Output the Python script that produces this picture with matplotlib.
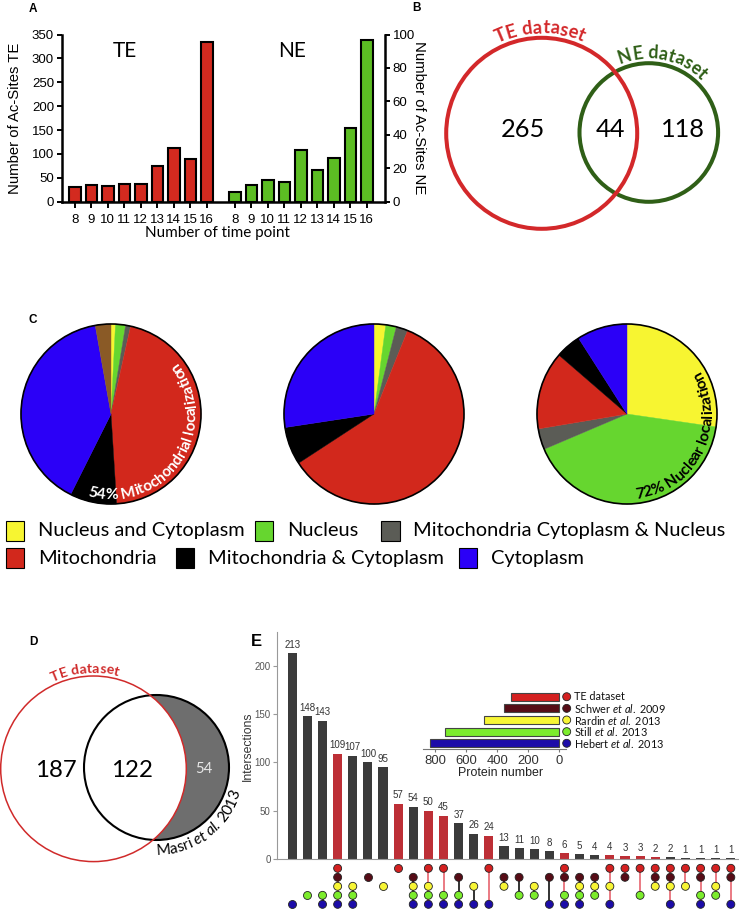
import numpy as np
import matplotlib
matplotlib.use('Agg')
import matplotlib.pyplot as plt
from matplotlib.patches import Circle, Rectangle
from matplotlib.font_manager import FontProperties

plt.rcParams['font.family'] = ['Liberation Sans', 'DejaVu Sans']
plt.rcParams['mathtext.fontset'] = 'custom'
plt.rcParams['mathtext.rm'] = 'Lato'
plt.rcParams['mathtext.it'] = 'Lato:italic'

# ---------------- data ----------------
time_points = [8, 9, 10, 11, 12, 13, 14, 15, 16]
te_sites = [30, 36, 32, 38, 38, 74, 112, 89, 334]
ne_sites = [6, 10, 13, 12, 31, 19, 26, 44, 97]

venn_b_counts = [265, 44, 118]

loc_categories = ['Nucleus and Cytoplasm', 'Nucleus', 'Mitochondria Cytoplasm & Nucleus',
                  'Mitochondria', 'Mitochondria & Cytoplasm', 'Cytoplasm', 'Other']
loc_colors = ['#f7f531', '#66d62f', '#5b5c56', '#d2281c', '#000000', '#2b00f7', '#8a5a26']
pie1_values = [0.8, 1.8, 0.9, 45.5, 8.4, 39.8, 2.8]
pie2_values = [2.1, 1.9, 2.1, 59.7, 6.8, 27.4, 0.0]
pie3_values = [27.3, 41.3, 3.75, 14.0, 4.6, 9.05, 0.0]
pie1_note = '54% Mitochondrial localization'
pie3_note = '72% Nuclear localization'

venn_d_counts = [187, 122, 54]

set_names = ['TE dataset', 'Schwer $\\it{et\\ al.}$ 2009', 'Rardin $\\it{et\\ al.}$ 2013',
             'Still $\\it{et\\ al.}$ 2013', 'Hebert $\\it{et\\ al.}$ 2013']
set_sizes = [309, 356, 483, 734, 835]
set_colors = ['#d42020', '#560c16', '#f7f535', '#7cec2c', '#1c0ca8']
inter_counts = [213, 148, 143, 109, 107, 100, 95, 57, 54, 50, 45, 37, 26, 24, 13, 11, 10, 8,
                6, 5, 4, 4, 3, 3, 2, 2, 1, 1, 1, 1]
inter_members = ['00001', '00010', '00011', '11111', '00111', '01000', '00100', '10000',
                 '01111', '10111', '10011', '01011', '00101', '10001', '01100', '01010',
                 '00110', '01001', '11011', '01111', '01110', '10101', '11000', '10010',
                 '11100', '11101', '10100', '11011', '10110', '11001']
inter_highlight = [0, 0, 0, 1, 0, 0, 0, 1, 0, 1, 1, 0, 0, 1, 0, 0, 0, 0, 1, 0, 0, 1, 1, 1,
                   1, 0, 0, 0, 0, 0]

# ---------------- figure ----------------
W, H = 739, 914
DPI = 100
fig = plt.figure(figsize=(W / DPI, H / DPI), dpi=DPI)
renderer = fig.canvas.get_renderer()


def add_axes_px(x0, y0, x1, y1, **kw):
    return fig.add_axes([x0 / W, 1 - y1 / H, (x1 - x0) / W, (y1 - y0) / H], **kw)


def text_w(s, fp, ismath=False):
    w, h, d = renderer.get_text_width_height_descent(s, fp, ismath=ismath)
    return w


def fit_size(s, target, family='Lato', weight='normal', style='normal', base=10.0):
    fp = FontProperties(family=family, size=base, weight=weight, style=style)
    return base * target / text_w(s, fp)


def char_adv(ch, fp):
    return text_w('|' + ch + '|', fp) - text_w('||', fp)


# ---------------- Panel A ----------------
axA = add_axes_px(61.7, 34.5, 385, 201.7)
te_x = np.arange(len(time_points))
ne_x = te_x + 9.7
axA.bar(te_x, te_sites, 0.7, color='#d32a1f', edgecolor='black', linewidth=1.5, zorder=3)
axA.set_xlim(-0.8, 18.8)
axA.set_ylim(0, 350)
axA.set_yticks(range(0, 351, 50))
axA.set_xticks(np.concatenate([te_x, ne_x]))
axA.set_xticklabels([str(t) for t in time_points] * 2)
axA2 = axA.twinx()
axA2.bar(ne_x, ne_sites, 0.7, color='#5cbd23', edgecolor='black', linewidth=1.5, zorder=3)
axA2.set_ylim(0, 100)
axA2.set_yticks(range(0, 101, 20))
for ax in (axA, axA2):
    ax.spines['top'].set_visible(False)
    for s in ('left', 'right', 'bottom'):
        ax.spines[s].set_linewidth(1.8)
    ax.tick_params(direction='out', length=3.5, width=1.4, labelsize=9.5, pad=2)
axA.tick_params(axis='x', length=4, pad=4.5)
axA.spines['right'].set_visible(False)
axA2.spines['left'].set_visible(False)
axA2.spines['bottom'].set_visible(False)
axA.set_ylabel('Number of Ac-Sites TE',
               fontsize=fit_size('Number of Ac-Sites TE', 152, 'Liberation Sans'))
axA.yaxis.label.set_va('center')
axA.yaxis.set_label_coords(-0.144, 0.5)
axA2.set_ylabel('Number of Ac-Sites NE', rotation=270,
                fontsize=fit_size('Number of Ac-Sites NE', 153, 'Liberation Sans'))
axA2.yaxis.label.set_va('center')
axA2.yaxis.set_label_coords(1.104, 0.5)
axA.set_xlabel('Number of time point', family='Lato',
               fontsize=fit_size('Number of time point', 145))
axA.xaxis.label.set_va('baseline')
axA.xaxis.set_label_coords(0.483, (201.7 - 237) / 167.2)

# ---------------- Panel C pies ----------------
PIE_R = 90
pie_centers = [(111, 414), (374, 414), (627, 414)]
for (cx, cy), vals in zip(pie_centers, [pie1_values, pie2_values, pie3_values]):
    m = 1.06
    axp = add_axes_px(cx - PIE_R * m, cy - PIE_R * m, cx + PIE_R * m, cy + PIE_R * m)
    v = [a for a in vals if a > 0]
    c = [col for a, col in zip(vals, loc_colors) if a > 0]
    wedges, _ = axp.pie(v, colors=c, startangle=90, counterclock=False, radius=1,
                        wedgeprops=dict(linewidth=0.3))
    for wdg in wedges:
        wdg.set_edgecolor(wdg.get_facecolor())
    axp.add_patch(Circle((0, 0), 1, fill=False, ec='black', lw=1.2))
    axp.set_xlim(-m, m)
    axp.set_ylim(-m, m)
    axp.set_aspect('equal')
    axp.axis('off')

# ---------------- Panel E upset ----------------
n = len(inter_counts)
ix = np.arange(n)
axE = add_axes_px(277, 632, 739, 859)
colsE = ['#bd2f36' if h else '#3b3b3b' for h in inter_highlight]
axE.bar(ix, inter_counts, 0.6, color=colsE, zorder=2)
for i, cnt in zip(ix, inter_counts):
    axE.annotate(str(cnt), (i, cnt), xytext=(0, 2.5), textcoords='offset points',
                 ha='center', va='bottom', fontsize=7, color='#333333')
axE.set_xlim(-1.01, 29.54)
axE.set_ylim(0, 235)
axE.set_yticks([0, 50, 100, 150, 200])
axE.set_xticks([])
for s in ('top', 'right'):
    axE.spines[s].set_visible(False)
for s in ('left', 'bottom'):
    axE.spines[s].set_color('#999999')
    axE.spines[s].set_linewidth(0.8)
axE.tick_params(axis='y', length=3, width=0.8, color='#999999', labelsize=7,
                labelcolor='#555555', pad=1.5)
axE.patch.set_alpha(0)
axE.set_ylabel('Intersections', color='#333333',
               fontsize=fit_size('Intersections', 70, 'Liberation Sans'))
axE.yaxis.label.set_va('center')
axE.yaxis.set_label_coords((248.3 - 277) / 462, (859 - 746.7) / 227)

axM = add_axes_px(277, 862, 739, 911)
axM.set_xlim(-1.01, 29.54)
axM.set_ylim(4.74, -0.7)
axM.axis('off')
for i, mem in enumerate(inter_members):
    rows = [r for r, b in enumerate(mem) if b == '1']
    if len(rows) > 1:
        axM.plot([i, i], [min(rows), max(rows)], color='#e8707a' if mem[0] == '1' else '#222222',
                 lw=1.3, zorder=1, solid_capstyle='butt')
    axM.scatter([i] * len(rows), rows, s=33, c=[set_colors[r] for r in rows],
                edgecolors='#222222', linewidths=0.6, zorder=2, clip_on=False)

# inset
k = 0.1554
x_zero = 559.3
axI = add_axes_px(423.3, 690.9, 577, 749)
rws = np.arange(len(set_sizes))
axI.barh(rws, set_sizes, height=0.68, color=set_colors, edgecolor='#444444', linewidth=0.8)
axI.set_xlim((x_zero - 423.3) / k, (x_zero - 577) / k)
axI.set_ylim(4.49, -0.5)
axI.set_yticks([])
axI.set_xticks([800, 600, 400, 200, 0])
for s in ('top', 'right', 'left'):
    axI.spines[s].set_visible(False)
axI.spines['bottom'].set_color('#777777')
axI.spines['bottom'].set_bounds(-43, 875)
axI.tick_params(axis='x', length=2.5, width=0.8, color='#777777', labelsize=9.4,
                labelcolor='#333333', pad=1.5)
axI.patch.set_alpha(0)
axI.set_xlabel('Protein number', fontsize=fit_size('Protein number', 85, 'Liberation Sans'),
               color='#222222', labelpad=0)
axI.scatter([(x_zero - 566.7) / k] * len(rws), rws, s=33, c=set_colors, edgecolors='#222222',
            linewidths=0.6, zorder=3, clip_on=False)
for r, name in zip(rws, set_names):
    axI.text((x_zero - 573.5) / k, r, name, ha='left', va='center', fontsize=7.8,
             family='Lato', color='#111111', clip_on=False)

# ---------------- overlay (pixel coords) ----------------
ov = fig.add_axes([0, 0, 1, 1], zorder=10)
ov.set_xlim(0, W)
ov.set_ylim(0, H)
ov.axis('off')


def T(x, y, s, **kw):
    return ov.text(x, H - y, s, **kw)


def arc_text(segments, cx, cy, r, th_start, th_end, color, weight='normal', family='Lato'):
    chars = []
    for txt, st in segments:
        for ch in txt:
            chars.append((ch, st))

    def adv(size):
        return [char_adv(ch, FontProperties(family=family, size=size, weight=weight, style=st))
                for ch, st in chars]
    a0 = adv(10.0)
    span = np.radians(abs(th_end - th_start)) * r
    size = 10.0 * span / sum(a0)
    a = adv(size)
    sign = 1 if th_end > th_start else -1
    pos = 0.0
    for (ch, st), w in zip(chars, a):
        th = np.radians(th_start) + sign * (pos + w / 2) / r
        x = cx + r * np.cos(th)
        y = (H - cy) + r * np.sin(th)
        rot = np.degrees(th) + (90 if sign > 0 else -90)
        ov.text(x, y, ch, rotation=rot, rotation_mode='anchor', ha='center', va='baseline',
                fontsize=size, fontweight=weight, fontstyle=st, family=family, color=color)
        pos += w


# panel labels
for lab, (x, y) in zip('ABCD', [(33, 9), (416.7, 8.3), (33, 320), (33.3, 641.7)]):
    T(x, y, lab, fontsize=8.5, fontweight='bold', ha='center', va='center')
T(256, 641.7, 'E', fontsize=12, fontweight='bold', ha='center', va='center')

# panel A group labels
T(125, 51, 'TE', family='Lato', fontsize=15, ha='center', va='center')
T(292, 51, 'NE', family='Lato', fontsize=15, ha='center', va='center')

# panel B venn
ov.add_patch(Circle((648.8, H - 132.5), 69.3, fill=False, ec='#2f5f17', lw=2.9))
ov.add_patch(Circle((541.7, H - 133.3), 95.5, fill=False, ec='#d3282a', lw=2.9))
for x, cnt in zip([523, 610.7, 683], venn_b_counts):
    T(x, 136.7, str(cnt), family='Lato', fontsize=18.3, ha='center', va='baseline')
arc_text([('TE dataset', 'normal')], 541.7, 133.3, 100, 116, 66, '#d3282a', weight='bold')
arc_text([('NE dataset', 'normal')], 648.8, 132.5, 74, 113, 45, '#2f5f17', weight='bold')

# panel C pie notes
arc_text([(pie1_note, 'normal')], 111, 414, 85, -106, 39, 'white', weight='bold')
arc_text([(pie3_note, 'normal')], 627, 414, 85, -84, 31, 'black', weight='bold')

# legend for C
leg_rows = [[0, 1, 2], [3, 4, 5]]
leg_y = [530.7, 558.3]
leg_sq_x = [[5.7, 254.7, 381], [5.7, 175.5, 458.5]]
leg_fs = fit_size('Nucleus and Cytoplasm', 207)
for row, yc, xs in zip(leg_rows, leg_y, leg_sq_x):
    for ci, x0 in zip(row, xs):
        ov.add_patch(Rectangle((x0, H - yc - 10), 18.5, 20, facecolor=loc_colors[ci],
                               edgecolor='black', lw=0.8))
        T(x0 + 32, yc, loc_categories[ci], family='Lato', fontsize=leg_fs, ha='left',
          va='center')

# panel D venn
ov.add_patch(Circle((156.5, H - 767.5), 72.5, facecolor='#6e6e6e', edgecolor='none'))
ov.add_patch(Circle((93.5, H - 768.8), 92.8, facecolor='white', edgecolor='none'))
ov.add_patch(Circle((156.5, H - 767.5), 72.5, fill=False, edgecolor='black', lw=1.5))
ov.add_patch(Circle((93.5, H - 768.8), 92.8, fill=False, edgecolor='#d02a2a', lw=1.1))
T(56, 776.7, str(venn_d_counts[0]), family='Lato', fontsize=17.3, ha='center', va='baseline')
T(131.7, 776.7, str(venn_d_counts[1]), family='Lato', fontsize=17.3, ha='center',
  va='baseline')
T(204, 773.3, str(venn_d_counts[2]), family='Lato', fontsize=10.7, ha='center', va='baseline',
  color='#e8e8e8')
arc_text([('TE dataset', 'normal')], 93.5, 768.8, 96, 115, 75, '#d02a2a', weight='bold')
arc_text([('Masri ', 'normal'), ('et al.', 'italic'), (' 2013', 'normal')],
         156.5, 767.5, 87.5, -90, -16, 'black')

fig.savefig('out.png', dpi=DPI)
